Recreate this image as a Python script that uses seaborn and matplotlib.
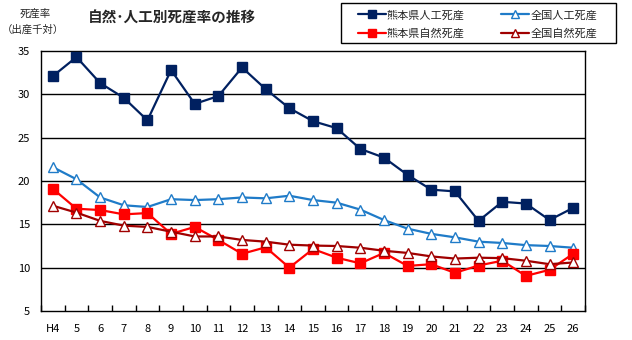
import matplotlib
matplotlib.use("Agg")
import matplotlib.pyplot as plt
import seaborn as sns
import pandas as pd
import numpy as np
from matplotlib.patches import Rectangle

years = ["H4", "5", "6", "7", "8", "9", "10", "11", "12", "13", "14", "15",
         "16", "17", "18", "19", "20", "21", "22", "23", "24", "25", "26"]
kumamoto_artificial = [32.1, 34.3, 31.3, 29.6, 27.0, 32.8, 28.9, 29.8, 33.1, 30.6, 28.4, 26.9,
                       26.1, 23.7, 22.7, 20.7, 19.0, 18.8, 15.4, 17.6, 17.4, 15.5, 16.9]
national_artificial = [21.6, 20.2, 18.1, 17.2, 17.0, 17.9, 17.8, 17.9, 18.1, 18.0, 18.3, 17.8,
                       17.5, 16.7, 15.5, 14.5, 13.9, 13.5, 13.0, 12.85, 12.6, 12.5, 12.3]
kumamoto_natural = [19.1, 16.8, 16.65, 16.15, 16.3, 13.9, 14.7, 13.2, 11.6, 12.35, 10.0, 12.15,
                    11.15, 10.5, 11.7, 10.2, 10.4, 9.4, 10.25, 10.8, 9.05, 9.75, 11.6]
national_natural = [17.15, 16.35, 15.4, 14.85, 14.7, 14.15, 13.6, 13.6, 13.2, 13.0, 12.65, 12.55,
                    12.5, 12.3, 11.95, 11.7, 11.3, 11.05, 11.15, 11.1, 10.8, 10.4, 10.6]
series_names = ["熊本県人工死産", "全国人工死産", "熊本県自然死産", "全国自然死産"]
y_ticks = [5, 10, 15, 20, 25, 30, 35]

sns.set_theme(style="white")
plt.rcParams['font.family'] = ['Noto Sans CJK JP', 'DejaVu Sans']

fig = plt.figure(figsize=(6.32, 3.4), dpi=100)
ax = fig.add_axes([41/632, 1-311/340, (585-41)/632, (311-51)/340])

pos = np.arange(len(years))
styles = [
    (kumamoto_artificial, "#002060", "s", "#002060", 6.5),
    (national_artificial, "#1F7BC8", "^", "white", 6.5),
    (kumamoto_natural, "#FF0000", "s", "#FF0000", 6.5),
    (national_natural, "#A00000", "^", "white", 6.5),
]
handles = []
for name, (vals, col, mk, mfc, ms) in zip(series_names, styles):
    df = pd.DataFrame({"x": pos, "y": vals})
    sns.lineplot(data=df, x="x", y="y", ax=ax, color=col, linewidth=1.6,
                 marker=mk, markersize=ms, markerfacecolor=mfc,
                 markeredgecolor=col, markeredgewidth=1.0, zorder=3)
    handles.append(ax.lines[-1])

ax.set_xlim(-0.5, len(years) - 0.5)
ax.set_ylim(5, 35)
ax.set_yticks(y_ticks)
ax.set_yticklabels([str(v) for v in y_ticks], fontsize=8)
ax.set_xticks(pos)
ax.set_xticklabels(years, fontsize=8)
ax.set_xticks(np.arange(-0.5, len(years), 1), minor=True)
ax.tick_params(axis='x', which='major', length=0, pad=9, colors='black')
ax.tick_params(axis='x', which='minor', length=4, direction='in', color='black', width=1, bottom=True)
ax.tick_params(axis='y', length=0, pad=8, colors='black')
ax.set_xlabel("")
ax.set_ylabel("")
for y in y_ticks[1:-1]:
    ax.axhline(y, color='black', linewidth=1.0, zorder=1)
for s in ax.spines.values():
    s.set_visible(True)
    s.set_color('black')
    s.set_linewidth(1.0)
ax.grid(False)

fig.text(88/632, 1-18/340, "自然･人工別死産率の推移", fontsize=10.5, fontweight='bold',
         va='center', ha='left')
fig.text(35/632, 1-14/340, "死産率", fontsize=7.5, va='center', ha='center')
fig.text(33/632, 1-30/340, "（出産千対）", fontsize=7.5, va='center', ha='center')

# legend frame
fig.patches.append(Rectangle((341/632, 1-43/340), (616-341)/632, 40/340,
                             transform=fig.transFigure, fill=False,
                             edgecolor='black', linewidth=1.0))
order = [0, 2, 1, 3]
leg = fig.legend([handles[i] for i in order], [series_names[i] for i in order],
                 ncol=2, loc='upper left', bbox_to_anchor=(358/632, 1-10/340),
                 fontsize=8, frameon=False,
                 handlelength=2.5, handletextpad=0.1, columnspacing=3.3,
                 borderpad=0, borderaxespad=0, labelspacing=0.75, markerscale=0.8)

fig.savefig("out.png", dpi=100)
